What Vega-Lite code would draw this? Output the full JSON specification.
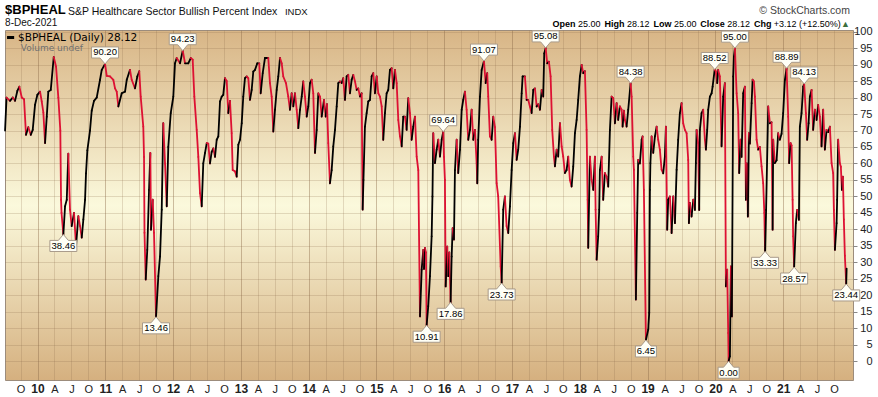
{
"$schema":"https://vega.github.io/schema/vega-lite/v6.json",
"width":848,"height":350,"autosize":"none",
"padding":{"left":5,"top":30,"right":25,"bottom":17},
"background":"#ffffff",
"view":{"fill":{"gradient":"linear","x1":0,"y1":0,"x2":0,"y2":1,"stops":[{"offset":0,"color":"#d8b586"},{"offset":0.5,"color":"#fbf9dc"},{"offset":1,"color":"#d5b07f"}]},"stroke":"#9c8c7c","strokeWidth":1},
"resolve":{"axis":{"x":"independent","y":"independent"}},
"datasets":{
"bpi":[
{"t":2009.521,"v":70},{"t":2009.543,"v":80},{"t":2009.594,"v":79},{"t":2009.634,"v":80},{"t":2009.668,"v":79},{"t":2009.702,"v":82},{"t":2009.732,"v":83.3},{"t":2009.767,"v":80},{"t":2009.801,"v":79.5},{"t":2009.830,"v":68.7},{"t":2009.864,"v":71},{"t":2009.900,"v":68.7},{"t":2009.929,"v":70.2},{"t":2009.963,"v":77.8},{"t":2009.997,"v":80.8},{"t":2010.037,"v":81.8},{"t":2010.062,"v":78.8},{"t":2010.086,"v":75.4},{"t":2010.111,"v":66.2},{"t":2010.136,"v":74.2},{"t":2010.159,"v":81.8},{"t":2010.195,"v":82.3},{"t":2010.239,"v":92.3},{"t":2010.273,"v":89.4},{"t":2010.307,"v":80},{"t":2010.336,"v":70},{"t":2010.347,"v":49},{"t":2010.354,"v":45},{"t":2010.381,"v":38.46},{"t":2010.406,"v":47},{"t":2010.431,"v":49},{"t":2010.454,"v":63},{"t":2010.479,"v":46},{"t":2010.504,"v":41},{"t":2010.538,"v":45},{"t":2010.568,"v":35},{"t":2010.602,"v":44},{"t":2010.627,"v":41},{"t":2010.652,"v":37.5},{"t":2010.676,"v":43},{"t":2010.701,"v":49},{"t":2010.715,"v":57},{"t":2010.735,"v":64},{"t":2010.774,"v":70},{"t":2010.799,"v":76},{"t":2010.833,"v":79},{"t":2010.873,"v":80},{"t":2010.922,"v":85.4},{"t":2010.947,"v":88.4},{"t":2010.996,"v":90.2},{"t":2011.021,"v":86.6},{"t":2011.069,"v":86.4},{"t":2011.118,"v":85.4},{"t":2011.143,"v":82.8},{"t":2011.168,"v":81.8},{"t":2011.192,"v":77.3},{"t":2011.242,"v":81.3},{"t":2011.291,"v":81.8},{"t":2011.316,"v":85.4},{"t":2011.364,"v":88.4},{"t":2011.389,"v":85.4},{"t":2011.438,"v":82.8},{"t":2011.472,"v":86.4},{"t":2011.501,"v":88},{"t":2011.522,"v":80.3},{"t":2011.560,"v":71.2},{"t":2011.571,"v":62},{"t":2011.578,"v":39},{"t":2011.596,"v":24.8},{"t":2011.619,"v":33.8},{"t":2011.645,"v":52},{"t":2011.664,"v":63.2},{"t":2011.674,"v":39.9},{"t":2011.699,"v":49},{"t":2011.718,"v":39},{"t":2011.748,"v":13.46},{"t":2011.782,"v":25.8},{"t":2011.807,"v":31.8},{"t":2011.832,"v":46},{"t":2011.855,"v":72.2},{"t":2011.881,"v":60},{"t":2011.906,"v":47},{"t":2011.929,"v":65},{"t":2011.965,"v":75.3},{"t":2012.003,"v":80.3},{"t":2012.028,"v":90.4},{"t":2012.053,"v":92},{"t":2012.102,"v":90.4},{"t":2012.142,"v":94.23},{"t":2012.176,"v":90.4},{"t":2012.224,"v":90.4},{"t":2012.260,"v":92},{"t":2012.289,"v":91.5},{"t":2012.313,"v":80.3},{"t":2012.348,"v":70.2},{"t":2012.372,"v":62},{"t":2012.397,"v":51},{"t":2012.422,"v":47},{"t":2012.445,"v":60},{"t":2012.471,"v":63.2},{"t":2012.496,"v":66.2},{"t":2012.519,"v":66},{"t":2012.544,"v":60},{"t":2012.569,"v":63.5},{"t":2012.593,"v":64.6},{"t":2012.618,"v":62},{"t":2012.643,"v":67.2},{"t":2012.667,"v":68.2},{"t":2012.692,"v":78.8},{"t":2012.717,"v":80.3},{"t":2012.740,"v":80.8},{"t":2012.765,"v":85.9},{"t":2012.791,"v":85},{"t":2012.814,"v":75.3},{"t":2012.839,"v":79},{"t":2012.864,"v":69.2},{"t":2012.879,"v":58},{"t":2012.913,"v":57.6},{"t":2012.938,"v":56},{"t":2012.962,"v":65.7},{"t":2012.987,"v":67.2},{"t":2013.012,"v":72.2},{"t":2013.035,"v":80.3},{"t":2013.060,"v":85.9},{"t":2013.086,"v":86.4},{"t":2013.109,"v":85.9},{"t":2013.134,"v":79.3},{"t":2013.159,"v":82.3},{"t":2013.183,"v":87.9},{"t":2013.208,"v":88.4},{"t":2013.242,"v":90.4},{"t":2013.271,"v":90.4},{"t":2013.292,"v":81.3},{"t":2013.322,"v":87.4},{"t":2013.355,"v":92},{"t":2013.404,"v":92},{"t":2013.429,"v":84.4},{"t":2013.454,"v":80.3},{"t":2013.478,"v":69.7},{"t":2013.503,"v":76.3},{"t":2013.528,"v":82.3},{"t":2013.552,"v":86.4},{"t":2013.577,"v":92},{"t":2013.602,"v":90.4},{"t":2013.625,"v":86.4},{"t":2013.665,"v":84.4},{"t":2013.699,"v":80.3},{"t":2013.724,"v":76.3},{"t":2013.749,"v":81.3},{"t":2013.773,"v":77.3},{"t":2013.798,"v":81.3},{"t":2013.823,"v":76.3},{"t":2013.847,"v":70.7},{"t":2013.872,"v":76.3},{"t":2013.897,"v":80.3},{"t":2013.920,"v":84.9},{"t":2013.945,"v":80.3},{"t":2013.971,"v":74.2},{"t":2013.994,"v":77.3},{"t":2014.019,"v":84.4},{"t":2014.044,"v":85.4},{"t":2014.068,"v":81.3},{"t":2014.093,"v":63.2},{"t":2014.118,"v":70.2},{"t":2014.142,"v":81.3},{"t":2014.167,"v":80.3},{"t":2014.192,"v":74.2},{"t":2014.226,"v":79.3},{"t":2014.251,"v":74.2},{"t":2014.270,"v":78},{"t":2014.289,"v":66.2},{"t":2014.314,"v":54},{"t":2014.339,"v":58},{"t":2014.363,"v":65.2},{"t":2014.388,"v":70.2},{"t":2014.413,"v":77.3},{"t":2014.437,"v":84.4},{"t":2014.462,"v":84.9},{"t":2014.487,"v":84.4},{"t":2014.510,"v":85.9},{"t":2014.535,"v":79.3},{"t":2014.560,"v":86.4},{"t":2014.584,"v":86.9},{"t":2014.609,"v":81.3},{"t":2014.634,"v":85.4},{"t":2014.658,"v":86.9},{"t":2014.683,"v":84.9},{"t":2014.708,"v":82.3},{"t":2014.732,"v":82.8},{"t":2014.757,"v":80.3},{"t":2014.782,"v":81.3},{"t":2014.796,"v":46},{"t":2014.808,"v":55},{"t":2014.830,"v":71.2},{"t":2014.855,"v":75.3},{"t":2014.879,"v":78.8},{"t":2014.904,"v":79.3},{"t":2014.929,"v":86.4},{"t":2014.953,"v":87.4},{"t":2014.978,"v":81.3},{"t":2015.003,"v":86.4},{"t":2015.027,"v":81.3},{"t":2015.052,"v":80.3},{"t":2015.077,"v":77.3},{"t":2015.100,"v":67.2},{"t":2015.125,"v":75.3},{"t":2015.150,"v":81.3},{"t":2015.174,"v":82.3},{"t":2015.199,"v":88.4},{"t":2015.224,"v":88.9},{"t":2015.248,"v":82.8},{"t":2015.273,"v":88.4},{"t":2015.298,"v":84.4},{"t":2015.322,"v":73.2},{"t":2015.347,"v":68.2},{"t":2015.372,"v":65.2},{"t":2015.395,"v":74.2},{"t":2015.420,"v":74.2},{"t":2015.445,"v":70.2},{"t":2015.469,"v":79.8},{"t":2015.494,"v":75.3},{"t":2015.519,"v":67.2},{"t":2015.543,"v":71.2},{"t":2015.568,"v":74.2},{"t":2015.593,"v":62.1},{"t":2015.617,"v":58},{"t":2015.642,"v":13.6},{"t":2015.667,"v":27.8},{"t":2015.690,"v":33.8},{"t":2015.701,"v":28},{"t":2015.715,"v":34.4},{"t":2015.730,"v":33},{"t":2015.740,"v":10.91},{"t":2015.764,"v":16.7},{"t":2015.789,"v":25.8},{"t":2015.814,"v":37.9},{"t":2015.826,"v":50},{"t":2015.838,"v":69.2},{"t":2015.863,"v":60.1},{"t":2015.888,"v":64.2},{"t":2015.912,"v":67.2},{"t":2015.937,"v":62.1},{"t":2015.962,"v":67.2},{"t":2015.985,"v":69.64},{"t":2015.996,"v":62},{"t":2016.010,"v":55},{"t":2016.021,"v":22.7},{"t":2016.044,"v":34.8},{"t":2016.059,"v":25.8},{"t":2016.074,"v":33},{"t":2016.094,"v":17.86},{"t":2016.109,"v":31.8},{"t":2016.124,"v":40.4},{"t":2016.143,"v":36.9},{"t":2016.158,"v":58},{"t":2016.183,"v":67.2},{"t":2016.206,"v":57.1},{"t":2016.232,"v":64.2},{"t":2016.257,"v":76.3},{"t":2016.280,"v":79.3},{"t":2016.305,"v":81.8},{"t":2016.330,"v":76.3},{"t":2016.354,"v":67.2},{"t":2016.379,"v":70.2},{"t":2016.404,"v":76.3},{"t":2016.428,"v":67.2},{"t":2016.453,"v":70.2},{"t":2016.478,"v":60.1},{"t":2016.487,"v":54},{"t":2016.501,"v":67.2},{"t":2016.527,"v":80.3},{"t":2016.552,"v":88.4},{"t":2016.586,"v":91.07},{"t":2016.611,"v":84.4},{"t":2016.634,"v":87.4},{"t":2016.649,"v":80.3},{"t":2016.674,"v":68.2},{"t":2016.699,"v":67.2},{"t":2016.723,"v":74.2},{"t":2016.748,"v":71},{"t":2016.773,"v":54},{"t":2016.796,"v":50},{"t":2016.832,"v":28.8},{"t":2016.847,"v":23.73},{"t":2016.870,"v":46},{"t":2016.895,"v":50},{"t":2016.920,"v":41},{"t":2016.944,"v":38.9},{"t":2016.969,"v":47},{"t":2016.994,"v":58},{"t":2017.018,"v":66.2},{"t":2017.043,"v":69.2},{"t":2017.068,"v":61.1},{"t":2017.091,"v":64.2},{"t":2017.117,"v":71.2},{"t":2017.142,"v":81.3},{"t":2017.156,"v":86.4},{"t":2017.190,"v":86.4},{"t":2017.215,"v":79.3},{"t":2017.239,"v":79.3},{"t":2017.264,"v":77.3},{"t":2017.289,"v":75.3},{"t":2017.313,"v":82.3},{"t":2017.338,"v":82.8},{"t":2017.363,"v":77.3},{"t":2017.386,"v":78},{"t":2017.412,"v":76.3},{"t":2017.437,"v":82.3},{"t":2017.460,"v":80.3},{"t":2017.475,"v":93.4},{"t":2017.496,"v":95.08},{"t":2017.519,"v":90.4},{"t":2017.544,"v":90.9},{"t":2017.569,"v":86.4},{"t":2017.593,"v":70.2},{"t":2017.618,"v":62.1},{"t":2017.633,"v":59.1},{"t":2017.658,"v":64.2},{"t":2017.681,"v":62.1},{"t":2017.707,"v":72.2},{"t":2017.732,"v":65.2},{"t":2017.755,"v":62.1},{"t":2017.780,"v":57.1},{"t":2017.805,"v":58},{"t":2017.829,"v":62.1},{"t":2017.854,"v":55},{"t":2017.879,"v":53},{"t":2017.903,"v":59.1},{"t":2017.928,"v":69.2},{"t":2017.953,"v":73.2},{"t":2017.976,"v":79.3},{"t":2018.001,"v":86.4},{"t":2018.027,"v":89.9},{"t":2018.050,"v":87.4},{"t":2018.075,"v":88},{"t":2018.100,"v":70.2},{"t":2018.115,"v":49},{"t":2018.124,"v":34.4},{"t":2018.149,"v":62.1},{"t":2018.174,"v":55},{"t":2018.198,"v":52},{"t":2018.223,"v":62.1},{"t":2018.233,"v":46},{"t":2018.248,"v":30.8},{"t":2018.271,"v":37.9},{"t":2018.286,"v":46},{"t":2018.296,"v":58},{"t":2018.322,"v":62.1},{"t":2018.345,"v":49},{"t":2018.370,"v":57.1},{"t":2018.395,"v":56},{"t":2018.419,"v":53},{"t":2018.444,"v":70.2},{"t":2018.469,"v":80.3},{"t":2018.493,"v":79.8},{"t":2018.518,"v":72.2},{"t":2018.543,"v":78.3},{"t":2018.566,"v":73.2},{"t":2018.591,"v":77.3},{"t":2018.617,"v":76.3},{"t":2018.631,"v":71.2},{"t":2018.650,"v":76},{"t":2018.665,"v":73.2},{"t":2018.690,"v":71.2},{"t":2018.714,"v":76.3},{"t":2018.749,"v":84.38},{"t":2018.764,"v":80.3},{"t":2018.788,"v":62.1},{"t":2018.798,"v":58.1},{"t":2018.827,"v":18.7},{"t":2018.847,"v":45},{"t":2018.861,"v":61.1},{"t":2018.886,"v":60},{"t":2018.912,"v":67.2},{"t":2018.926,"v":68.2},{"t":2018.945,"v":52},{"t":2018.975,"v":6.45},{"t":2019.009,"v":9.6},{"t":2019.024,"v":14.7},{"t":2019.034,"v":52},{"t":2019.041,"v":60.1},{"t":2019.059,"v":68.2},{"t":2019.083,"v":63.2},{"t":2019.108,"v":68.2},{"t":2019.133,"v":71.2},{"t":2019.156,"v":67.2},{"t":2019.181,"v":64.2},{"t":2019.206,"v":58.1},{"t":2019.230,"v":57},{"t":2019.255,"v":62.1},{"t":2019.270,"v":71.2},{"t":2019.289,"v":39.9},{"t":2019.304,"v":49},{"t":2019.329,"v":50},{"t":2019.354,"v":38.9},{"t":2019.378,"v":50},{"t":2019.403,"v":41.9},{"t":2019.428,"v":58.1},{"t":2019.451,"v":67.2},{"t":2019.476,"v":75.3},{"t":2019.501,"v":78.3},{"t":2019.525,"v":72.2},{"t":2019.550,"v":70.2},{"t":2019.575,"v":69.2},{"t":2019.599,"v":61.1},{"t":2019.609,"v":41.9},{"t":2019.624,"v":48},{"t":2019.649,"v":43.9},{"t":2019.673,"v":49},{"t":2019.698,"v":45.9},{"t":2019.712,"v":60.1},{"t":2019.723,"v":70.2},{"t":2019.746,"v":66.2},{"t":2019.761,"v":45.9},{"t":2019.771,"v":70.2},{"t":2019.796,"v":75.3},{"t":2019.820,"v":76.3},{"t":2019.845,"v":67.2},{"t":2019.860,"v":64.2},{"t":2019.879,"v":70.2},{"t":2019.894,"v":76.3},{"t":2019.919,"v":80.3},{"t":2019.944,"v":81.3},{"t":2019.959,"v":83.3},{"t":2019.990,"v":88.52},{"t":2020.007,"v":87.9},{"t":2020.027,"v":84.4},{"t":2020.041,"v":88.4},{"t":2020.066,"v":86.4},{"t":2020.091,"v":65.2},{"t":2020.115,"v":80.3},{"t":2020.140,"v":84.4},{"t":2020.155,"v":22.7},{"t":2020.174,"v":27.8},{"t":2020.189,"v":8.6},{"t":2020.195,"v":0},{"t":2020.214,"v":1.5},{"t":2020.229,"v":28.8},{"t":2020.243,"v":13.6},{"t":2020.263,"v":86.4},{"t":2020.273,"v":92.4},{"t":2020.288,"v":95},{"t":2020.313,"v":81.3},{"t":2020.336,"v":75.3},{"t":2020.351,"v":57.1},{"t":2020.372,"v":67.2},{"t":2020.386,"v":62},{"t":2020.410,"v":81.3},{"t":2020.435,"v":83.3},{"t":2020.450,"v":49},{"t":2020.465,"v":60},{"t":2020.479,"v":43.9},{"t":2020.494,"v":69.2},{"t":2020.509,"v":66},{"t":2020.534,"v":78.3},{"t":2020.549,"v":85.4},{"t":2020.568,"v":84.9},{"t":2020.583,"v":80.3},{"t":2020.608,"v":67.2},{"t":2020.631,"v":64.2},{"t":2020.656,"v":65},{"t":2020.681,"v":59.1},{"t":2020.705,"v":54},{"t":2020.722,"v":45},{"t":2020.733,"v":33.33},{"t":2020.748,"v":45.9},{"t":2020.779,"v":77.3},{"t":2020.804,"v":72.2},{"t":2020.829,"v":72.5},{"t":2020.844,"v":39.9},{"t":2020.853,"v":67.2},{"t":2020.878,"v":60.1},{"t":2020.903,"v":61},{"t":2020.926,"v":69.2},{"t":2020.951,"v":67.2},{"t":2020.976,"v":69},{"t":2021.000,"v":75.3},{"t":2021.025,"v":85.4},{"t":2021.050,"v":88.89},{"t":2021.074,"v":74.2},{"t":2021.088,"v":60.1},{"t":2021.109,"v":66.2},{"t":2021.124,"v":65.5},{"t":2021.139,"v":49},{"t":2021.147,"v":37.9},{"t":2021.162,"v":28.57},{"t":2021.187,"v":41.9},{"t":2021.206,"v":45.9},{"t":2021.232,"v":42.9},{"t":2021.246,"v":71.2},{"t":2021.271,"v":75.3},{"t":2021.295,"v":83.3},{"t":2021.310,"v":84.13},{"t":2021.335,"v":75.3},{"t":2021.354,"v":67.2},{"t":2021.375,"v":72.2},{"t":2021.394,"v":80.3},{"t":2021.419,"v":82.3},{"t":2021.442,"v":70.2},{"t":2021.468,"v":76.3},{"t":2021.493,"v":73.2},{"t":2021.516,"v":77.8},{"t":2021.541,"v":74.2},{"t":2021.566,"v":65.2},{"t":2021.590,"v":76.3},{"t":2021.615,"v":64.2},{"t":2021.640,"v":70.2},{"t":2021.664,"v":69.5},{"t":2021.689,"v":71.2},{"t":2021.714,"v":60.1},{"t":2021.737,"v":57.1},{"t":2021.748,"v":45.9},{"t":2021.763,"v":33.8},{"t":2021.788,"v":41.9},{"t":2021.796,"v":49},{"t":2021.811,"v":67.2},{"t":2021.836,"v":60.1},{"t":2021.851,"v":59},{"t":2021.866,"v":52},{"t":2021.881,"v":56},{"t":2021.895,"v":43},{"t":2021.910,"v":32},{"t":2021.930,"v":23.44},{"t":2021.936,"v":28.12}
],
"peaks":[{"t":2010.996,"v":90.2},{"t":2012.142,"v":94.23},{"t":2015.985,"v":69.64},{"t":2016.586,"v":91.07},{"t":2017.496,"v":95.08},{"t":2018.749,"v":84.38},{"t":2019.990,"v":88.52},{"t":2020.288,"v":95},{"t":2021.050,"v":88.89},{"t":2021.310,"v":84.13}],
"troughs":[{"t":2010.381,"v":38.46},{"t":2011.748,"v":13.46},{"t":2015.740,"v":10.91},{"t":2016.094,"v":17.86},{"t":2016.847,"v":23.73},{"t":2018.975,"v":6.45},{"t":2020.195,"v":0},{"t":2020.733,"v":33.33},{"t":2021.162,"v":28.57},{"t":2021.930,"v":23.44}]
},
"layer":[
{"data":{"name":"bpi"},
 "transform":[{"window":[{"op":"lag","field":"t","as":"t0"},{"op":"lag","field":"v","as":"v0"}],"sort":[{"field":"t","order":"ascending"}]},{"filter":"datum.t0 != null"}],
 "mark":{"type":"rule","strokeWidth":1.8,"strokeCap":"round"},
 "encoding":{
  "x":{"field":"t","type":"quantitative","scale":{"domain":[2009.52,2022.03],"nice":false,"zero":false},
   "axis":{"values":[2009.75,2010,2010.25,2010.5,2010.75,2011,2011.25,2011.5,2011.75,2012,2012.25,2012.5,2012.75,2013,2013.25,2013.5,2013.75,2014,2014.25,2014.5,2014.75,2015,2015.25,2015.5,2015.75,2016,2016.25,2016.5,2016.75,2017,2017.25,2017.5,2017.75,2018,2018.25,2018.5,2018.75,2019,2019.25,2019.5,2019.75,2020,2020.25,2020.5,2020.75,2021,2021.25,2021.5,2021.75],
    "labelExpr":"abs(datum.value-round(datum.value))<0.01 ? format(round(datum.value)%100,'02d') : (datum.value-floor(datum.value)<0.4 ? 'A' : (datum.value-floor(datum.value)<0.6 ? 'J' : 'O'))",
    "title":null,"grid":true,"ticks":false,"domain":false,"labelFlush":false,"labelOverlap":false,"labelPadding":3,
    "labelFont":"Liberation Sans","labelColor":"#222222",
    "labelFontSize":{"condition":{"test":"abs(datum.value-round(datum.value))<0.01","value":12},"value":11},
    "labelFontWeight":{"condition":{"test":"abs(datum.value-round(datum.value))<0.01","value":"bold"},"value":"normal"},
    "gridColor":"#8a6a48",
    "gridOpacity":{"condition":{"test":"abs(datum.value-round(datum.value))<0.01","value":0.42},"value":0.22}}},
  "x2":{"field":"t0"},
  "y":{"field":"v","type":"quantitative","scale":{"domain":[-5.7,100.5],"nice":false,"zero":false},
   "axis":{"orient":"right","values":[0,5,10,15,20,25,30,35,40,45,50,55,60,65,70,75,80,85,90,95,100],"title":null,"grid":true,"gridColor":"#8a6a48","gridOpacity":0.22,"domain":false,"tickSize":4,"tickColor":"#888888","labelAlign":"right","labelPadding":15,"labelFont":"Liberation Sans","labelFontSize":11,"labelColor":"#222222","labelFlush":false}},
  "y2":{"field":"v0"},
  "color":{"condition":{"test":"datum.v >= datum.v0","value":"#000000"},"value":"#dd1133"}
 }},
{"data":{"name":"peaks"},
 "mark":{"type":"point","filled":true,"fill":"#fffff6","fillOpacity":1,"stroke":"#a89a8a","strokeWidth":1,"opacity":1,"shape":"M0,0L-0.37,-0.44H-1V-1.26H1V-0.44H0.37Z","size":729},
 "encoding":{"x":{"field":"t","type":"quantitative","scale":{"domain":[2009.52,2022.03],"nice":false,"zero":false},"axis":null},
  "y":{"field":"v","type":"quantitative","scale":{"domain":[-5.7,100.5],"nice":false,"zero":false},"axis":null}}},
{"data":{"name":"peaks"},
 "mark":{"type":"text","dy":-11.5,"baseline":"middle","align":"center","font":"Liberation Sans","fontSize":9.5,"color":"#000000"},
 "encoding":{"x":{"field":"t","type":"quantitative","scale":{"domain":[2009.52,2022.03],"nice":false,"zero":false},"axis":null},
  "y":{"field":"v","type":"quantitative","scale":{"domain":[-5.7,100.5],"nice":false,"zero":false},"axis":null},
  "text":{"field":"v","type":"quantitative","format":".2f"}}},
{"data":{"name":"troughs"},
 "mark":{"type":"point","filled":true,"fill":"#fffff6","fillOpacity":1,"stroke":"#a89a8a","strokeWidth":1,"opacity":1},
 "encoding":{"x":{"field":"t","type":"quantitative","scale":{"domain":[2009.52,2022.03],"nice":false,"zero":false},"axis":null},
  "y":{"field":"v","type":"quantitative","scale":{"domain":[-5.7,100.5],"nice":false,"zero":false},"axis":null},
  "shape":{"condition":{"test":"datum.v < 10","value":"M0,0L0.48,0.57H1V1.62H-1V0.57H-0.48Z"},"value":"M0,0L0.37,0.44H1V1.26H-1V0.44H-0.37Z"},
  "size":{"condition":{"test":"datum.v < 10","value":441},"value":729}}},
{"data":{"name":"troughs"},
 "mark":{"type":"text","dy":11.5,"baseline":"middle","align":"center","font":"Liberation Sans","fontSize":9.5,"color":"#000000"},
 "encoding":{"x":{"field":"t","type":"quantitative","scale":{"domain":[2009.52,2022.03],"nice":false,"zero":false},"axis":null},
  "y":{"field":"v","type":"quantitative","scale":{"domain":[-5.7,100.5],"nice":false,"zero":false},"axis":null},
  "text":{"field":"v","type":"quantitative","format":".2f"}}},
{"data":{"values":[{}]},"mark":{"type":"rule","strokeWidth":3,"color":"#000000"},
 "encoding":{"x":{"datum":2009.55,"type":"quantitative","scale":{"domain":[2009.52,2022.03],"nice":false,"zero":false},"axis":null},"x2":{"datum":2009.655},"y":{"datum":98.22,"type":"quantitative","scale":{"domain":[-5.7,100.5],"nice":false,"zero":false},"axis":null}}},
{"data":{"values":[{}]},"mark":{"type":"text","align":"left","baseline":"middle","font":"DejaVu Sans","fontSize":10.5,"color":"#000000","text":"$BPHEAL (Daily) 28.12"},
 "encoding":{"x":{"datum":2009.712,"type":"quantitative","scale":{"domain":[2009.52,2022.03],"nice":false,"zero":false},"axis":null},"y":{"datum":98.22,"type":"quantitative","scale":{"domain":[-5.7,100.5],"nice":false,"zero":false},"axis":null}}},
{"data":{"values":[{}]},"mark":{"type":"text","align":"left","baseline":"middle","font":"DejaVu Sans","fontSize":9,"color":"#707070","text":"Volume undef"},
 "encoding":{"x":{"datum":2009.752,"type":"quantitative","scale":{"domain":[2009.52,2022.03],"nice":false,"zero":false},"axis":null},"y":{"datum":95.1,"type":"quantitative","scale":{"domain":[-5.7,100.5],"nice":false,"zero":false},"axis":null}}},
{"data":{"values":[{}]},"mark":{"type":"text","align":"left","baseline":"middle","font":"Liberation Sans","fontSize":13,"fontWeight":"bold","color":"#000000","text":"$BPHEAL"},
 "encoding":{"x":{"datum":2009.521,"type":"quantitative","scale":{"domain":[2009.52,2022.03],"nice":false,"zero":false},"axis":null},"y":{"datum":106.45,"type":"quantitative","scale":{"domain":[-5.7,100.5],"nice":false,"zero":false},"axis":null}}},
{"data":{"values":[{}]},"mark":{"type":"text","align":"left","baseline":"middle","font":"Liberation Sans","fontSize":10.5,"color":"#111111","text":"S&P Healthcare Sector Bullish Percent Index"},
 "encoding":{"x":{"datum":2010.45,"type":"quantitative","scale":{"domain":[2009.52,2022.03],"nice":false,"zero":false},"axis":null},"y":{"datum":106.1,"type":"quantitative","scale":{"domain":[-5.7,100.5],"nice":false,"zero":false},"axis":null}}},
{"data":{"values":[{}]},"mark":{"type":"text","align":"left","baseline":"middle","font":"Liberation Sans","fontSize":9.5,"color":"#111111","text":"INDX"},
 "encoding":{"x":{"datum":2013.65,"type":"quantitative","scale":{"domain":[2009.52,2022.03],"nice":false,"zero":false},"axis":null},"y":{"datum":106.1,"type":"quantitative","scale":{"domain":[-5.7,100.5],"nice":false,"zero":false},"axis":null}}},
{"data":{"values":[{}]},"mark":{"type":"text","align":"left","baseline":"middle","font":"Liberation Sans","fontSize":10,"color":"#111111","text":"8-Dec-2021"},
 "encoding":{"x":{"datum":2009.521,"type":"quantitative","scale":{"domain":[2009.52,2022.03],"nice":false,"zero":false},"axis":null},"y":{"datum":102.53,"type":"quantitative","scale":{"domain":[-5.7,100.5],"nice":false,"zero":false},"axis":null}}},
{"data":{"values":[{}]},"mark":{"type":"text","align":"right","baseline":"middle","font":"Liberation Sans","fontSize":10.5,"color":"#444444","text":"© StockCharts.com"},
 "encoding":{"x":{"datum":2021.984,"type":"quantitative","scale":{"domain":[2009.52,2022.03],"nice":false,"zero":false},"axis":null},"y":{"datum":106.33,"type":"quantitative","scale":{"domain":[-5.7,100.5],"nice":false,"zero":false},"axis":null}}},
{"data":{"values":[{}]},"mark":{"type":"text","align":"right","baseline":"middle","font":"Liberation Sans","fontSize":9,"color":"#3c6e3c","text":"▲"},
 "encoding":{"x":{"datum":2021.984,"type":"quantitative","scale":{"domain":[2009.52,2022.03],"nice":false,"zero":false},"axis":null},"y":{"datum":102.32,"type":"quantitative","scale":{"domain":[-5.7,100.5],"nice":false,"zero":false},"axis":null}}},
{"data":{"values":[{}]},"mark":{"type":"text","align":"right","baseline":"middle","font":"Liberation Sans","fontSize":9,"color":"#000000","text":"+3.12 (+12.50%)"},
 "encoding":{"x":{"datum":2021.851,"type":"quantitative","scale":{"domain":[2009.52,2022.03],"nice":false,"zero":false},"axis":null},"y":{"datum":102.32,"type":"quantitative","scale":{"domain":[-5.7,100.5],"nice":false,"zero":false},"axis":null}}},
{"data":{"values":[{}]},"mark":{"type":"text","align":"right","baseline":"middle","font":"Liberation Sans","fontSize":9,"fontWeight":"bold","color":"#000000","text":"Chg"},
 "encoding":{"x":{"datum":2020.826,"type":"quantitative","scale":{"domain":[2009.52,2022.03],"nice":false,"zero":false},"axis":null},"y":{"datum":102.32,"type":"quantitative","scale":{"domain":[-5.7,100.5],"nice":false,"zero":false},"axis":null}}},
{"data":{"values":[{}]},"mark":{"type":"text","align":"right","baseline":"middle","font":"Liberation Sans","fontSize":9,"color":"#000000","text":"28.12"},
 "encoding":{"x":{"datum":2020.509,"type":"quantitative","scale":{"domain":[2009.52,2022.03],"nice":false,"zero":false},"axis":null},"y":{"datum":102.32,"type":"quantitative","scale":{"domain":[-5.7,100.5],"nice":false,"zero":false},"axis":null}}},
{"data":{"values":[{}]},"mark":{"type":"text","align":"right","baseline":"middle","font":"Liberation Sans","fontSize":9,"fontWeight":"bold","color":"#000000","text":"Close"},
 "encoding":{"x":{"datum":2020.14,"type":"quantitative","scale":{"domain":[2009.52,2022.03],"nice":false,"zero":false},"axis":null},"y":{"datum":102.32,"type":"quantitative","scale":{"domain":[-5.7,100.5],"nice":false,"zero":false},"axis":null}}},
{"data":{"values":[{}]},"mark":{"type":"text","align":"right","baseline":"middle","font":"Liberation Sans","fontSize":9,"color":"#000000","text":"25.00"},
 "encoding":{"x":{"datum":2019.72,"type":"quantitative","scale":{"domain":[2009.52,2022.03],"nice":false,"zero":false},"axis":null},"y":{"datum":102.32,"type":"quantitative","scale":{"domain":[-5.7,100.5],"nice":false,"zero":false},"axis":null}}},
{"data":{"values":[{}]},"mark":{"type":"text","align":"right","baseline":"middle","font":"Liberation Sans","fontSize":9,"fontWeight":"bold","color":"#000000","text":"Low"},
 "encoding":{"x":{"datum":2019.351,"type":"quantitative","scale":{"domain":[2009.52,2022.03],"nice":false,"zero":false},"axis":null},"y":{"datum":102.32,"type":"quantitative","scale":{"domain":[-5.7,100.5],"nice":false,"zero":false},"axis":null}}},
{"data":{"values":[{}]},"mark":{"type":"text","align":"right","baseline":"middle","font":"Liberation Sans","fontSize":9,"color":"#000000","text":"28.12"},
 "encoding":{"x":{"datum":2019.027,"type":"quantitative","scale":{"domain":[2009.52,2022.03],"nice":false,"zero":false},"axis":null},"y":{"datum":102.32,"type":"quantitative","scale":{"domain":[-5.7,100.5],"nice":false,"zero":false},"axis":null}}},
{"data":{"values":[{}]},"mark":{"type":"text","align":"right","baseline":"middle","font":"Liberation Sans","fontSize":9,"fontWeight":"bold","color":"#000000","text":"High"},
 "encoding":{"x":{"datum":2018.658,"type":"quantitative","scale":{"domain":[2009.52,2022.03],"nice":false,"zero":false},"axis":null},"y":{"datum":102.32,"type":"quantitative","scale":{"domain":[-5.7,100.5],"nice":false,"zero":false},"axis":null}}},
{"data":{"values":[{}]},"mark":{"type":"text","align":"right","baseline":"middle","font":"Liberation Sans","fontSize":9,"color":"#000000","text":"25.00"},
 "encoding":{"x":{"datum":2018.304,"type":"quantitative","scale":{"domain":[2009.52,2022.03],"nice":false,"zero":false},"axis":null},"y":{"datum":102.32,"type":"quantitative","scale":{"domain":[-5.7,100.5],"nice":false,"zero":false},"axis":null}}},
{"data":{"values":[{}]},"mark":{"type":"text","align":"right","baseline":"middle","font":"Liberation Sans","fontSize":9,"fontWeight":"bold","color":"#000000","text":"Open"},
 "encoding":{"x":{"datum":2017.935,"type":"quantitative","scale":{"domain":[2009.52,2022.03],"nice":false,"zero":false},"axis":null},"y":{"datum":102.32,"type":"quantitative","scale":{"domain":[-5.7,100.5],"nice":false,"zero":false},"axis":null}}}
]
}
